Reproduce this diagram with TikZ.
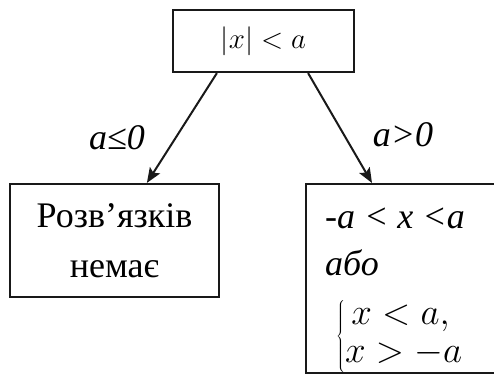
\RequirePackage{fix-cm}
\documentclass[tikz,border=0pt]{standalone}
\usepackage{fontspec}
\setmainfont{Liberation Serif}
\usetikzlibrary{arrows.meta}
\tikzset{
  boxst/.style={draw=black!90, line width=2.2pt, inner sep=0pt},
  arr/.style={draw=black!90, line width=2pt, -{Stealth[length=15pt,width=12pt,inset=3pt]}},
  lbl/.style={font=\fontsize{36}{40}\selectfont\itshape, inner sep=0pt},
  txt/.style={inner sep=0pt, font=\fontsize{36}{40}\selectfont}
}
\begin{document}
\begin{tikzpicture}[x=1pt,y=-1pt]
\useasboundingbox (0,0) rectangle (494,374);
\clip (0,0) rectangle (494,374);
\node[boxst, minimum width=181pt, minimum height=62pt, font=\fontsize{29}{32}\selectfont] (top) at (263.5,41) {$|x| < a$};
\node[boxst, minimum width=209pt, minimum height=113pt, align=center, font=\fontsize{36}{50}\selectfont] (lb) at (114.5,240.5) {Розв’язків\\немає};
\node[boxst, anchor=north west, minimum width=220pt, minimum height=189pt] (rb) at (305,183) {};
\node[txt, anchor=base west] (r1) at (325,228) {\itshape -a < x <a};
\node[txt, anchor=base west] (r2) at (325,275) {\itshape або};
\node[inner sep=0pt, anchor=west, font=\fontsize{37}{38}\selectfont] (r3) at (336,336) {$\left\{\begin{array}{@{}l@{}} \,x<a,\\ x>-a\end{array}\right.$};
\draw[arr] ([xshift=45pt]top.south west) -- ([xshift=138pt]lb.north west);
\draw[arr] ([xshift=-47pt]top.south east) -- ([xshift=67pt]rb.north west);
\node[lbl] (l1) at (117,138) {a≤0};
\node[lbl] (l2) at (403,135) {a>0};
\end{tikzpicture}
\end{document}
